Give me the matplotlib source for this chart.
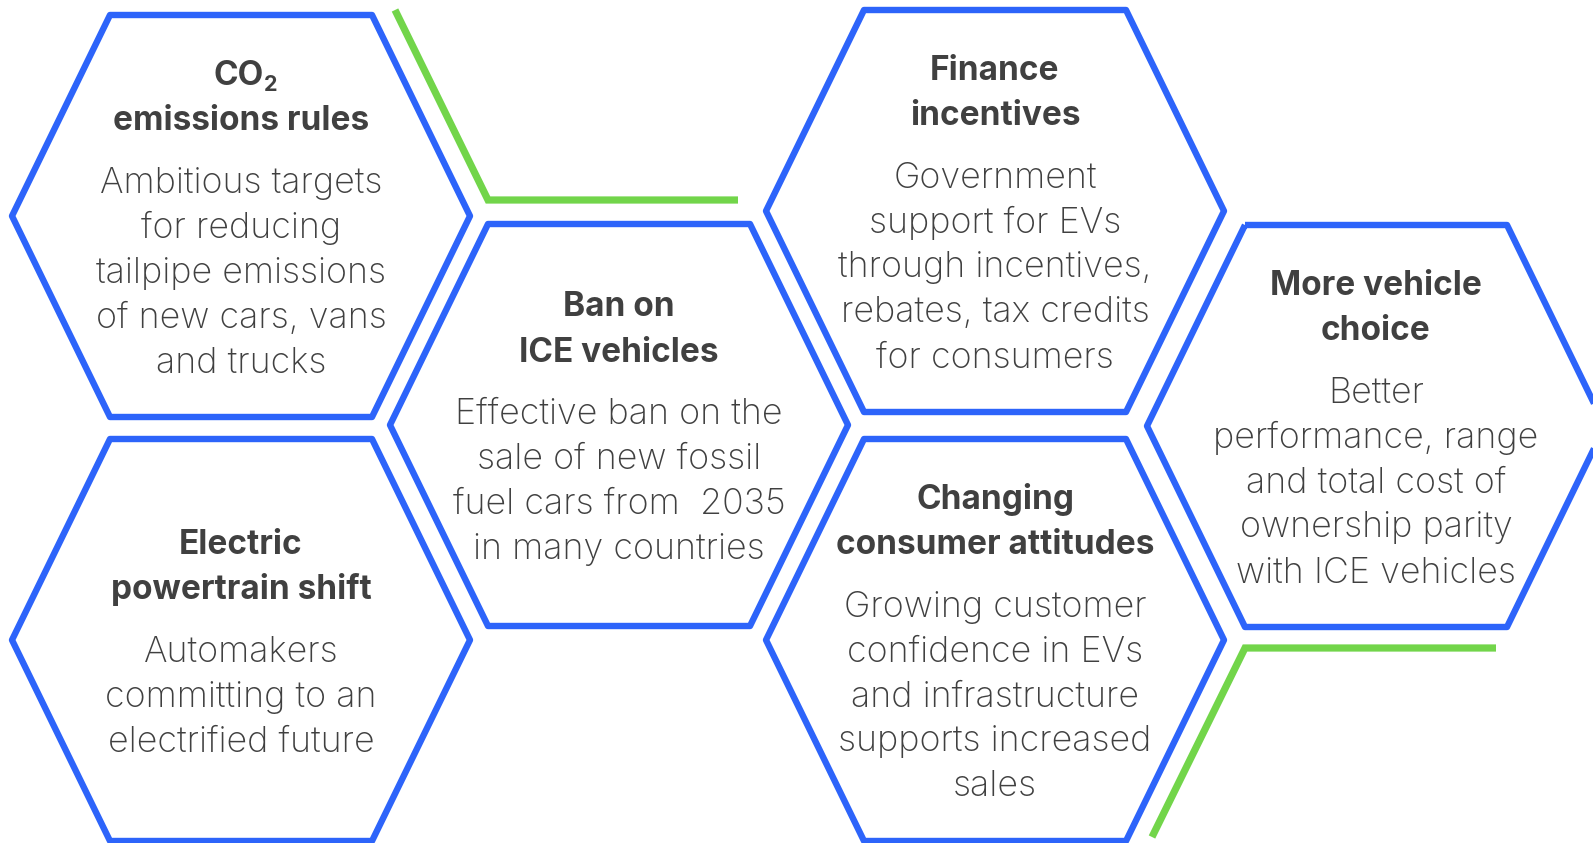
import matplotlib.pyplot as plt
from matplotlib.patches import Polygon

# --- text of each hexagon ---
titles = [
    ["CO2", "emissions rules"],
    ["Electric", "powertrain shift"],
    ["Ban on", "ICE vehicles"],
    ["Finance", "incentives"],
    ["Changing", "consumer attitudes"],
    ["More vehicle", "choice"],
]
bodies = [
    ["Ambitious targets", "for reducing", "tailpipe emissions", "of new cars, vans", "and trucks"],
    ["Automakers", "committing to an", "electrified future"],
    ["Effective ban on the", "sale of new fossil", "fuel cars from  2035", "in many countries"],
    ["Government", "support for EVs", "through incentives,", "rebates, tax credits", "for consumers"],
    ["Growing customer", "confidence in EVs", "and infrastructure", "supports increased", "sales"],
    ["Better", "performance, range", "and total cost of", "ownership parity", "with ICE vehicles"],
]

# --- layout (pixel space) ---
centers = [(241, 216), (241, 640), (619, 425), (995, 211), (995, 640), (1376, 426)]
hw, tw, hh = 229, 131, 201          # half width, half top edge, half height
green_x = [[395, 488, 738], [1496, 1245, 1152]]
green_y = [[10, 200, 200], [648, 648, 837]]

BLUE = "#2D64FA"
GREEN = "#72D54A"
TXT = "#404040"
plt.rcParams['font.family'] = ['Inter', 'DejaVu Sans']

fig = plt.figure(figsize=(15.93, 8.43), dpi=100)
ax = fig.add_axes([0, 0, 1, 1])
ax.set_xlim(0, 1593)
ax.set_ylim(843, 0)
ax.axis('off')

for xs, ys in zip(green_x, green_y):
    ax.plot(xs, ys, color=GREEN, lw=5.2, solid_capstyle='butt', solid_joinstyle='miter')

LS, GAP = 45, 61
for (cx, cy), tl, bl in zip(centers, titles, bodies):
    pts = [(cx - tw, cy - hh), (cx + tw, cy - hh), (cx + hw, cy),
           (cx + tw, cy + hh), (cx - tw, cy + hh), (cx - hw, cy)]
    ax.add_patch(Polygon(pts, closed=True, fill=False, ec=BLUE, lw=4.6, joinstyle='round'))

    span = (len(tl) - 1) * LS + GAP + (len(bl) - 1) * LS
    y = cy - span / 2 + 3
    for line in tl:
        if line == "CO2":
            ax.text(cx + 23, y, "CO", ha='right', va='center', fontsize=24,
                    fontweight='bold', color=TXT)
            ax.text(cx + 23, y + 9, "2", ha='left', va='center', fontsize=15.5,
                    fontweight='bold', color=TXT)
        else:
            ax.text(cx, y, line, ha='center', va='center', fontsize=24,
                    fontweight='bold', color=TXT)
        y += LS
    y += GAP - LS
    for line in bl:
        ax.text(cx, y + 1, line, ha='center', va='center', fontsize=25.8,
                fontweight='light', color=TXT)
        y += LS

fig.savefig("out.png", dpi=100)
